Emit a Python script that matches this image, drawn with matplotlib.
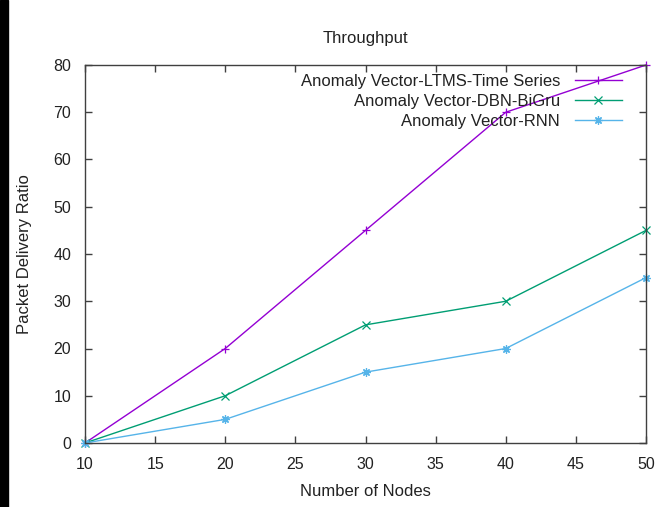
import matplotlib
matplotlib.use('Agg')
import matplotlib.pyplot as plt
from matplotlib.patches import Rectangle

plt.rcParams['font.family'] = ['Liberation Sans', 'DejaVu Sans']

nodes = [10, 20, 30, 40, 50]
ltms = [0, 20, 45, 70, 80]
dbn_bigru = [0, 10, 25, 30, 45]
rnn = [0, 5, 15, 20, 35]

labels = ['Anomaly Vector-LTMS-Time Series',
          'Anomaly Vector-DBN-BiGru',
          'Anomaly Vector-RNN']
colors = ['#9400D3', '#009E73', '#56B4E9']
markers = ['+', 'x', (8, 2, 0)]

fig = plt.figure(figsize=(6.55, 5.07), dpi=100)
# black strip along the left edge of the screenshot
fig.patches.append(Rectangle((0, 0), 8 / 655, 1, transform=fig.transFigure,
                             color='black', zorder=0))
ax = fig.add_axes([85 / 655, 1 - 443 / 507, (646 - 85) / 655, (443 - 65) / 507])

for ys, lab, c, m in zip([ltms, dbn_bigru, rnn], labels, colors, markers):
    ax.plot(nodes, ys, color=c, marker=m, markersize=6, markeredgewidth=0.9,
            linewidth=1, label=lab, clip_on=False)

ax.set_xlim(10, 50)
ax.set_ylim(0, 80)
ax.set_xticks(range(10, 51, 5))
ax.set_yticks(range(0, 81, 10))
ax.tick_params(direction='in', top=True, right=True, length=5, width=1,
               labelsize=11.5, color='#404040', labelcolor='#222222', pad=10)
for s in ax.spines.values():
    s.set_color('#404040')
    s.set_linewidth(1)

ax.set_xlabel('Number of Nodes', fontsize=12, color='#222222', labelpad=9)
ax.set_ylabel('Packet Delivery Ratio', fontsize=12, color='#222222', labelpad=15)
ax.set_title('Throughput', fontsize=12, color='#222222', pad=16)

leg = ax.legend(loc='upper right', frameon=False, markerfirst=False,
                fontsize=12, handlelength=2.8, handletextpad=0.9,
                labelspacing=0.3, borderaxespad=0.2,
                bbox_to_anchor=(0.9745, 1.003))
for t in leg.get_texts():
    t.set_ha('right')
    t.set_color('#222222')
leg._legend_box.align = 'right'

fig.savefig('out.png', dpi=100)
